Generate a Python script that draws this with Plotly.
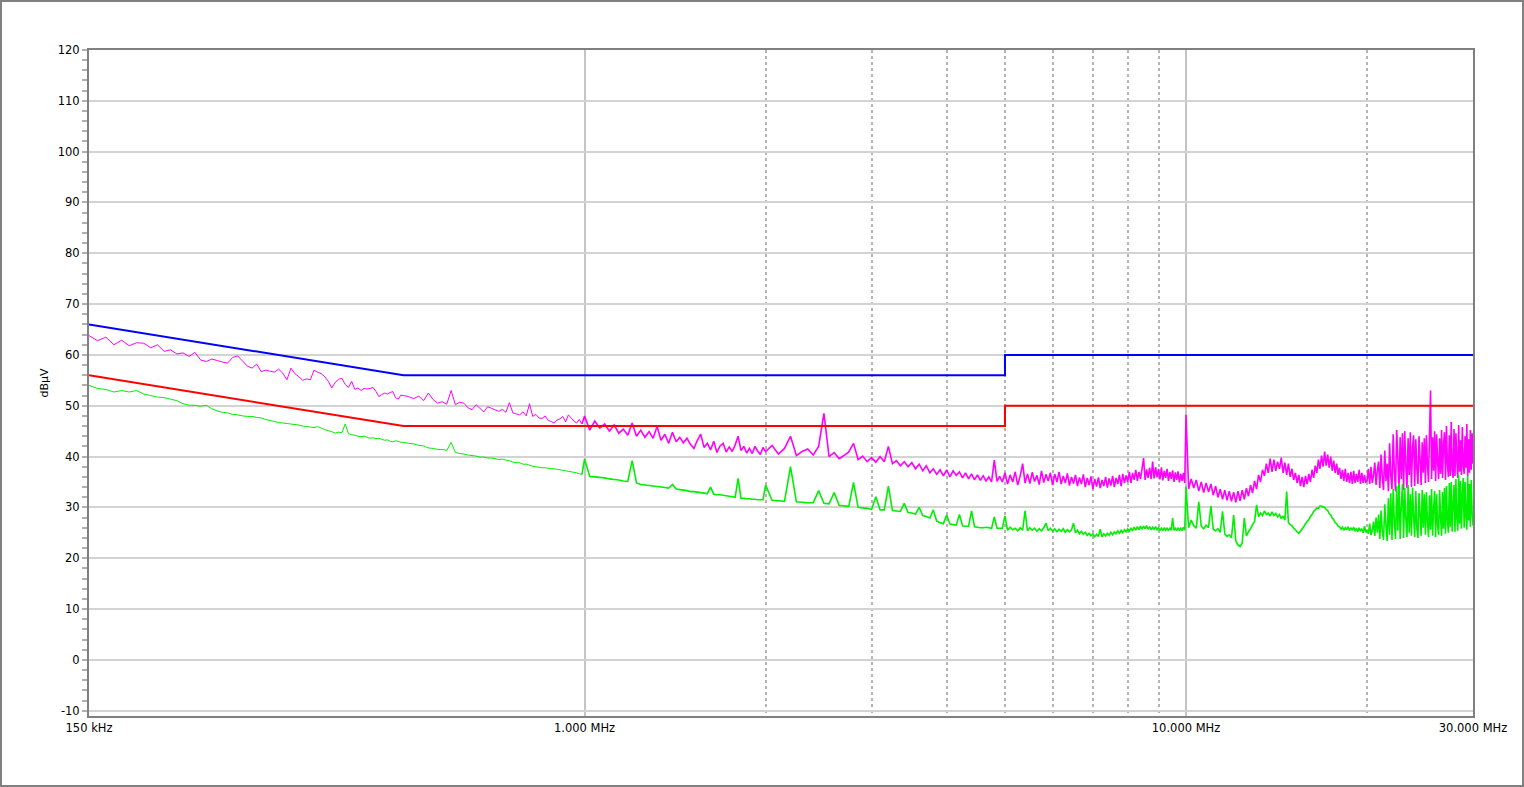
import plotly.graph_objects as go

# ---------------- data (frequency in MHz, level in dBuV) ----------------
freq_a = [0.150, 0.155, 0.160, 0.165, 0.170, 0.175, 0.180, 0.185, 0.190, 0.195,
          0.200, 0.205, 0.210, 0.215, 0.220, 0.225, 0.230, 0.235, 0.240, 0.245,
          0.250, 0.255, 0.260, 0.265, 0.270, 0.275, 0.280, 0.285, 0.290, 0.295,
          0.300, 0.305, 0.310, 0.315, 0.320, 0.325, 0.330, 0.335, 0.340, 0.345,
          0.350, 0.355, 0.360, 0.365, 0.370, 0.375, 0.380, 0.385, 0.390, 0.395,
          0.400, 0.405, 0.410, 0.415, 0.420, 0.425, 0.430, 0.435, 0.440, 0.445,
          0.450, 0.455, 0.460, 0.465, 0.470, 0.475, 0.480, 0.485, 0.490, 0.495]
peak_a = [63.8, 62.8, 63.5, 62.0, 62.9, 61.8, 62.4, 62.3, 61.4, 62.0,
          60.7, 61.0, 60.2, 60.4, 59.7, 60.5, 59.0, 58.7, 59.2, 58.9,
          58.6, 58.4, 59.5, 59.8, 58.8, 57.8, 57.4, 58.2, 56.7, 57.0,
          56.8, 56.6, 57.2, 56.4, 55.1, 57.4, 56.3, 55.7, 55.0, 55.3,
          55.1, 57.0, 56.6, 56.3, 55.7, 54.8, 53.5, 54.6, 55.2, 55.4,
          54.2, 53.6, 54.8, 53.2, 53.5, 53.0, 53.4, 53.3, 53.4, 53.6,
          52.8, 51.8, 52.2, 52.5, 52.3, 52.6, 52.8, 51.6, 51.3, 52.1]
avg_a = [54.0, 53.4, 53.2, 52.7, 53.0, 52.7, 53.0, 52.3, 52.0, 51.7,
         51.6, 51.3, 51.0, 50.4, 50.1, 50.1, 49.9, 50.1, 49.4, 49.0,
         48.7, 48.6, 48.3, 48.2, 48.0, 47.9, 47.9, 47.7, 47.6, 47.3,
         47.1, 46.9, 46.7, 46.6, 46.5, 46.4, 46.3, 46.2, 46.0, 45.9,
         45.8, 45.7, 45.9, 45.6, 45.3, 45.1, 44.9, 44.6, 44.8, 44.7,
         46.4, 44.5, 44.3, 44.2, 44.0, 43.9, 44.0, 43.8, 43.6, 43.7,
         43.5, 43.6, 43.4, 43.2, 43.3, 43.0, 42.9, 43.1, 43.0, 42.8]

freq_b = [0.50, 0.51, 0.52, 0.53, 0.54, 0.55, 0.56, 0.57, 0.58, 0.59,
          0.60, 0.61, 0.62, 0.63, 0.64, 0.65, 0.66, 0.67, 0.68, 0.69,
          0.70, 0.71, 0.72, 0.73, 0.74, 0.75, 0.76, 0.77, 0.78, 0.79,
          0.80, 0.81, 0.82, 0.83, 0.84, 0.85, 0.86, 0.87, 0.88, 0.89,
          0.90, 0.91, 0.92, 0.93, 0.94, 0.95, 0.96, 0.97, 0.98, 0.99]
peak_b = [52.0, 51.8, 51.4, 51.9, 51.0, 52.5, 51.2, 50.5, 50.8, 50.3,
          53.0, 50.2, 50.7, 50.5, 49.6, 49.2, 50.2, 49.5, 48.8, 49.8,
          49.5, 49.2, 48.9, 49.3, 48.7, 50.6, 48.6, 48.4, 48.2, 48.8,
          48.0, 50.4, 47.9, 48.3, 47.6, 47.5, 48.0, 47.1, 46.9, 46.6,
          47.2, 47.4, 47.9, 46.8, 48.2, 47.6, 47.0, 46.6, 47.3, 46.4]
avg_b = [42.8, 42.6, 42.5, 42.2, 42.1, 41.7, 41.6, 41.4, 41.4, 41.2,
         42.8, 40.8, 40.6, 40.5, 40.3, 40.2, 40.1, 39.9, 39.9, 39.7,
         39.7, 39.6, 39.4, 39.5, 39.3, 39.2, 38.9, 38.8, 38.8, 38.5,
         38.5, 38.3, 38.1, 38.0, 37.9, 37.8, 37.8, 37.7, 37.6, 37.6,
         37.5, 37.4, 37.3, 37.2, 37.1, 37.0, 36.9, 36.8, 36.6, 36.5]

freq_c = [1.00, 1.02, 1.04, 1.06, 1.08, 1.10, 1.12, 1.14, 1.16, 1.18,
          1.20, 1.22, 1.24, 1.26, 1.28, 1.30, 1.32, 1.34, 1.36, 1.38,
          1.40, 1.42, 1.44, 1.46, 1.48, 1.50, 1.52, 1.54, 1.56, 1.58,
          1.60, 1.62, 1.64, 1.66, 1.68, 1.70, 1.72, 1.74, 1.76, 1.78,
          1.80, 1.82, 1.84, 1.86, 1.88, 1.90, 1.92, 1.94, 1.96, 1.98]
peak_c = [48.0, 45.2, 47.0, 45.6, 46.4, 45.0, 46.2, 44.6, 45.4, 44.2,
          46.6, 44.0, 45.2, 43.8, 44.9, 43.6, 45.9, 43.2, 44.4, 42.6,
          44.8, 42.9, 43.8, 42.7, 43.6, 42.4, 41.6, 43.2, 44.4, 41.8,
          42.6, 41.3, 43.0, 40.8, 42.1, 42.6, 40.9, 41.9, 41.0, 42.3,
          44.0, 41.2, 42.0, 40.7, 41.6, 40.6, 42.0, 41.1, 40.4, 41.8]
avg_c = [39.5, 36.1, 36.0, 35.9, 35.8, 35.6, 35.5, 35.4, 35.2, 35.1,
         39.2, 34.8, 34.5, 34.4, 34.3, 34.2, 34.1, 34.0, 33.9, 33.8,
         34.5, 33.6, 33.5, 33.4, 33.3, 33.1, 33.1, 33.0, 32.9, 32.8,
         32.7, 34.0, 32.6, 32.5, 32.5, 32.4, 32.3, 32.2, 32.1, 32.0,
         35.7, 31.8, 31.8, 31.7, 31.7, 31.6, 31.6, 31.5, 31.5, 31.5]

freq_d = [2.00, 2.05, 2.10, 2.15, 2.20, 2.25, 2.30, 2.35, 2.40, 2.45,
          2.50, 2.55, 2.60, 2.65, 2.70, 2.75, 2.80, 2.85, 2.90, 2.95,
          3.00, 3.05, 3.10, 3.15, 3.20, 3.25, 3.30, 3.35, 3.40, 3.45,
          3.50, 3.55, 3.60, 3.65, 3.70, 3.75, 3.80, 3.85, 3.90, 3.95,
          4.00, 4.05, 4.10, 4.15, 4.20, 4.25, 4.30, 4.35, 4.40, 4.45,
          4.50, 4.55, 4.60, 4.65, 4.70, 4.75, 4.80, 4.85, 4.90, 4.95]
peak_d = [41.0, 42.2, 40.5, 41.6, 44.0, 40.2, 41.0, 41.5, 40.3, 42.0,
          48.5, 40.0, 40.8, 39.6, 40.2, 40.9, 42.6, 39.4, 40.1, 39.0,
          39.8, 38.9, 40.0, 39.0, 42.0, 38.6, 39.2, 38.2, 39.0, 38.0,
          38.8, 37.6, 38.5, 37.2, 38.2, 36.8, 37.6, 36.5, 37.4, 36.2,
          37.4, 36.0, 37.2, 36.3, 37.0, 35.8, 36.8, 35.6, 36.6, 35.4,
          36.4, 35.3, 36.2, 35.2, 36.0, 35.0, 39.3, 35.1, 36.1, 35.0]
avg_d = [34.4, 31.4, 31.3, 31.2, 38.0, 31.1, 31.0, 30.9, 30.9, 33.3,
         30.8, 30.7, 32.9, 30.4, 30.3, 30.2, 34.9, 30.0, 29.9, 29.8,
         29.6, 32.1, 29.5, 29.5, 34.2, 29.4, 29.3, 29.2, 30.8, 29.0,
         28.9, 28.7, 30.0, 28.4, 28.2, 27.9, 29.5, 27.3, 27.0, 26.8,
         28.5, 26.7, 26.6, 26.5, 28.6, 26.4, 26.3, 26.3, 29.3, 26.2,
         26.1, 26.0, 26.0, 26.1, 26.0, 25.9, 28.1, 25.9, 25.9, 25.9]

freq_e = [5.00, 5.05, 5.10, 5.15, 5.20, 5.25, 5.30, 5.35, 5.40, 5.45,
          5.50, 5.55, 5.60, 5.65, 5.70, 5.75, 5.80, 5.85, 5.90, 5.95,
          6.00, 6.05, 6.10, 6.15, 6.20, 6.25, 6.30, 6.35, 6.40, 6.45,
          6.50, 6.55, 6.60, 6.65, 6.70, 6.75, 6.80, 6.85, 6.90, 6.95,
          7.00, 7.05, 7.10, 7.15, 7.20, 7.25, 7.30, 7.35, 7.40, 7.45,
          7.50, 7.55, 7.60, 7.65, 7.70, 7.75, 7.80, 7.85, 7.90, 7.95,
          8.00, 8.05, 8.10, 8.15, 8.20, 8.25, 8.30, 8.35, 8.40, 8.45,
          8.50, 8.55, 8.60, 8.65, 8.70, 8.75, 8.80, 8.85, 8.90, 8.95,
          9.00, 9.05, 9.10, 9.15, 9.20, 9.25, 9.30, 9.35, 9.40, 9.45,
          9.50, 9.55, 9.60, 9.65, 9.70, 9.75, 9.80, 9.85, 9.90, 9.95]
peak_e = [36.8, 34.6, 36.4, 35.0, 37.0, 34.4, 36.2, 38.6, 34.8, 36.6,
          34.7, 36.9, 35.1, 36.3, 34.5, 37.2, 34.9, 36.5, 35.2, 36.8,
          34.4, 36.6, 35.0, 37.0, 34.6, 36.2, 34.8, 36.7, 34.3, 36.0,
          34.7, 36.4, 34.2, 35.9, 34.6, 36.5, 34.0, 35.8, 34.4, 36.1,
          33.6, 35.6, 34.1, 35.9, 33.8, 35.4, 34.2, 36.0, 33.9, 35.7,
          34.3, 36.2, 34.0, 35.8, 34.6, 36.4, 34.2, 36.6, 34.8, 36.3,
          35.0, 37.0, 34.8, 36.8, 35.4, 37.4, 35.2, 37.0, 35.6, 37.6,
          39.7, 35.4, 37.5, 35.8, 37.8, 35.6, 39.0, 35.7, 37.9, 35.9,
          37.6, 35.5, 37.9, 35.3, 37.2, 35.8, 37.6, 35.2, 37.0, 35.6,
          37.3, 35.0, 36.9, 35.4, 37.1, 34.9, 36.6, 35.2, 36.8, 34.8]
avg_e = [28.3, 25.5, 26.1, 25.6, 25.9, 25.4, 26.0, 25.5, 29.3, 25.4,
         26.0, 25.5, 25.9, 25.3, 25.8, 25.4, 26.0, 26.9, 25.4, 25.9,
         25.3, 25.8, 25.2, 25.7, 25.3, 25.8, 25.1, 25.6, 25.2, 25.6,
         26.9, 25.0, 25.5, 24.8, 25.3, 24.7, 25.1, 24.5, 24.9, 24.4,
         24.8, 24.2, 24.7, 24.3, 25.7, 24.2, 24.8, 24.4, 24.9, 24.5,
         25.1, 24.6, 25.2, 24.8, 25.4, 24.9, 25.5, 25.0, 25.6, 25.2,
         25.8, 25.3, 25.9, 25.4, 26.1, 25.5, 26.2, 25.6, 26.3, 25.7,
         26.3, 25.8, 26.4, 25.7, 26.2, 25.6, 26.1, 25.7, 26.2, 25.6,
         26.0, 25.5, 25.9, 25.4, 26.0, 25.5, 25.9, 25.4, 26.0, 25.5,
         27.9, 25.5, 25.9, 25.4, 26.0, 25.5, 25.9, 25.4, 26.1, 25.5]

freq_f1 = [10.0, 10.1, 10.2, 10.3, 10.4, 10.5, 10.6, 10.7, 10.8, 10.9,
           11.0, 11.1, 11.2, 11.3, 11.4, 11.5, 11.6, 11.7, 11.8, 11.9,
           12.0, 12.1, 12.2, 12.3, 12.4, 12.5, 12.6, 12.7, 12.8, 12.9,
           13.0, 13.1, 13.2, 13.3, 13.4, 13.5, 13.6, 13.7, 13.8, 13.9,
           14.0, 14.1, 14.2, 14.3, 14.4, 14.5, 14.6, 14.7, 14.8, 14.9,
           15.0, 15.1, 15.2, 15.3, 15.4, 15.5, 15.6, 15.7, 15.8, 15.9,
           16.0, 16.1, 16.2, 16.3, 16.4, 16.5, 16.6, 16.7, 16.8, 16.9,
           17.0, 17.1, 17.2, 17.3, 17.4, 17.5, 17.6, 17.7, 17.8, 17.9,
           18.0, 18.1, 18.2, 18.3, 18.4, 18.5, 18.6, 18.7, 18.8, 18.9,
           19.0, 19.1, 19.2, 19.3, 19.4, 19.5, 19.6, 19.7, 19.8, 19.9]
peak_f1 = [48.2, 33.6, 35.6, 33.8, 35.4, 33.2, 35.0, 32.9, 34.8, 33.0,
           34.6, 32.4, 34.2, 32.0, 33.6, 31.6, 33.4, 31.4, 33.2, 31.2,
           33.0, 31.0, 33.2, 31.3, 33.4, 31.6, 33.8, 32.2, 34.4, 32.8,
           35.2, 33.6, 36.4, 35.0, 37.4, 36.2, 38.6, 36.8, 39.6, 37.0,
           39.4, 37.2, 39.0, 37.6, 39.8, 36.8, 38.8, 36.4, 38.6, 36.0,
           37.6, 35.4, 36.8, 34.8, 36.4, 34.2, 36.0, 34.0, 36.2, 34.6,
           36.6, 35.0, 37.4, 35.8, 38.2, 36.8, 39.4, 37.6, 40.2, 38.0,
           41.0, 38.2, 40.4, 37.8, 40.0, 37.2, 39.2, 36.8, 38.6, 36.4,
           37.8, 35.6, 37.4, 35.2, 37.6, 35.0, 36.8, 34.8, 37.0, 34.6,
           37.2, 34.8, 36.6, 35.0, 37.4, 34.6, 36.8, 34.8, 36.4, 35.0]
avg_f1 = [34.1, 26.0, 27.5, 26.4, 25.9, 31.1, 26.3, 25.8, 26.5, 26.0,
          30.3, 25.7, 25.4, 25.8, 25.1, 29.2, 24.8, 24.3, 24.6, 24.0,
          28.5, 23.4, 22.6, 22.3, 23.0, 27.9, 24.4, 25.2, 25.8, 26.6,
          27.2, 30.5, 28.2, 28.9, 28.4, 29.3, 28.6, 28.9, 28.3, 29.1,
          28.4, 28.8, 28.1, 28.6, 27.8, 28.3, 27.5, 33.1, 27.0, 26.6,
          26.4, 25.9, 25.6, 25.2, 24.9, 25.3, 25.8, 26.2, 26.8, 27.2,
          27.6, 28.2, 28.6, 29.2, 29.5, 29.9, 29.8, 30.3, 30.2, 30.1,
          30.0, 29.6, 29.4, 28.8, 28.5, 27.9, 27.6, 27.0, 26.8, 26.3,
          26.2, 25.7, 26.1, 25.5, 26.0, 25.6, 26.2, 25.4, 26.0, 25.5,
          26.1, 25.3, 25.9, 25.2, 26.0, 25.3, 25.8, 25.0, 26.3, 25.1]

freq_f2 = [20.0, 20.1, 20.2, 20.3, 20.4, 20.5, 20.6, 20.7, 20.8, 20.9,
           21.0, 21.1, 21.2, 21.3, 21.4, 21.5, 21.6, 21.7, 21.8, 21.9,
           22.0, 22.1, 22.2, 22.3, 22.4, 22.5, 22.6, 22.7, 22.8, 22.9,
           23.0, 23.1, 23.2, 23.3, 23.4, 23.5, 23.6, 23.7, 23.8, 23.9,
           24.0, 24.1, 24.2, 24.3, 24.4, 24.5, 24.6, 24.7, 24.8, 24.9,
           25.0, 25.1, 25.2, 25.3, 25.4, 25.5, 25.6, 25.7, 25.8, 25.9,
           26.0, 26.1, 26.2, 26.3, 26.4, 26.5, 26.6, 26.7, 26.8, 26.9,
           27.0, 27.1, 27.2, 27.3, 27.4, 27.5, 27.6, 27.7, 27.8, 27.9,
           28.0, 28.1, 28.2, 28.3, 28.4, 28.5, 28.6, 28.7, 28.8, 28.9,
           29.0, 29.1, 29.2, 29.3, 29.4, 29.5, 29.6, 29.7, 29.8, 29.9,
           30.0]
peak_f2 = [35.2, 37.6, 34.6, 38.0, 34.8, 36.4, 38.8, 34.4, 37.2, 39.0,
           33.8, 40.4, 36.0, 33.4, 41.2, 35.2, 38.6, 33.2, 42.6, 36.4,
           33.6, 44.4, 37.0, 33.2, 45.2, 39.6, 33.8, 43.8, 35.6, 44.6,
           33.4, 45.0, 38.2, 33.8, 43.6, 36.4, 44.8, 34.0, 41.8, 44.2,
           34.2, 43.4, 37.6, 34.6, 44.0, 39.2, 34.4, 42.8, 36.8, 43.6,
           34.8, 44.2, 38.4, 35.0, 44.6, 53.0, 35.6, 43.8, 37.2, 45.0,
           35.2, 44.4, 39.0, 35.6, 43.6, 36.6, 45.2, 35.8, 42.4, 44.8,
           35.4, 46.0, 38.6, 36.0, 44.2, 36.2, 46.8, 37.4, 35.8, 45.4,
           36.2, 44.6, 39.4, 35.8, 46.2, 37.0, 43.2, 36.4, 45.8, 38.2,
           36.6, 44.0, 37.8, 46.4, 36.2, 43.4, 36.8, 45.2, 37.4, 44.6,
           38.6]
avg_f2 = [25.6, 24.8, 26.8, 24.6, 25.4, 27.2, 24.4, 28.0, 25.0, 28.6,
          23.8, 29.4, 25.2, 23.6, 30.6, 26.4, 23.4, 31.8, 24.6, 32.8,
          23.6, 33.6, 27.0, 23.8, 34.2, 25.4, 34.8, 23.8, 30.4, 34.6,
          24.0, 33.8, 27.6, 24.2, 34.4, 25.0, 32.6, 24.4, 33.9, 28.2,
          24.2, 33.2, 25.8, 24.0, 32.8, 28.4, 24.4, 33.4, 26.0, 32.6,
          24.6, 33.0, 27.2, 24.2, 32.4, 25.6, 33.6, 24.4, 29.6, 33.2,
          24.2, 32.6, 26.4, 24.6, 33.4, 28.0, 24.4, 33.0, 25.8, 33.8,
          24.8, 34.2, 27.4, 25.0, 34.8, 26.2, 35.0, 25.2, 30.6, 34.4,
          25.2, 35.6, 27.8, 25.4, 36.4, 26.8, 35.2, 25.8, 32.4, 35.8,
          26.0, 35.0, 28.2, 25.6, 36.2, 27.4, 34.6, 26.2, 35.4, 29.0,
          26.4]

# limit lines (quasi-peak and average)
qp_limit_freq = [0.15, 0.5, 5.0, 5.0, 30.0]
qp_limit_dbuv = [66, 56, 56, 60, 60]
av_limit_freq = [0.15, 0.5, 5.0, 5.0, 30.0]
av_limit_dbuv = [56, 46, 46, 50, 50]

# axis ticks
x_tick_vals = [0.15, 1, 10, 30]
x_tick_text = ["150 kHz", "1.000 MHz", "10.000 MHz", "30.000 MHz"]
x_minor_grid = [2, 3, 4, 5, 6, 7, 8, 9, 20]
y_tick_vals = [-10, 0, 10, 20, 30, 40, 50, 60, 70, 80, 90, 100, 110, 120]
y_tick_text = [str(v) for v in y_tick_vals]

# low band (< 1 MHz) is a sparse, thin trace; above 1 MHz the sweep is dense
freq_low = freq_a + freq_b
peak_low = peak_a + peak_b
avg_low = avg_a + avg_b
freq_high = freq_low[-1:] + freq_c + freq_d + freq_e + freq_f1 + freq_f2
peak_high = peak_low[-1:] + peak_c + peak_d + peak_e + peak_f1 + peak_f2
avg_high = avg_low[-1:] + avg_c + avg_d + avg_e + avg_f1 + avg_f2
assert len(freq_low) == len(peak_low) == len(avg_low)
assert len(freq_high) == len(peak_high) == len(avg_high), (len(freq_high), len(peak_high), len(avg_high))

FONT = "DejaVu Sans"
PEAK_COLOR = "#FF00FF"
AVG_COLOR = "#00F000"

fig = go.Figure()
fig.add_trace(go.Scatter(x=freq_low, y=peak_low, mode="lines",
                         line=dict(color=PEAK_COLOR, width=1, simplify=False),
                         hoverinfo="skip", name="Peak"))
fig.add_trace(go.Scatter(x=freq_high, y=peak_high, mode="lines",
                         line=dict(color=PEAK_COLOR, width=1.6, simplify=False),
                         hoverinfo="skip", name="Peak"))
fig.add_trace(go.Scatter(x=freq_low, y=avg_low, mode="lines",
                         line=dict(color=AVG_COLOR, width=1, simplify=False),
                         hoverinfo="skip", name="Average"))
fig.add_trace(go.Scatter(x=freq_high, y=avg_high, mode="lines",
                         line=dict(color=AVG_COLOR, width=1.6, simplify=False),
                         hoverinfo="skip", name="Average"))
fig.add_trace(go.Scatter(x=qp_limit_freq, y=qp_limit_dbuv, mode="lines",
                         line=dict(color="#0000FF", width=2),
                         hoverinfo="skip", name="QP limit"))
fig.add_trace(go.Scatter(x=av_limit_freq, y=av_limit_dbuv, mode="lines",
                         line=dict(color="#FF0000", width=2),
                         hoverinfo="skip", name="AV limit"))

fig.update_layout(
    width=1524, height=787,
    margin=dict(l=89, r=51, t=50, b=71),
    paper_bgcolor="white", plot_bgcolor="white",
    showlegend=False,
    font=dict(family=FONT, size=11.5, color="#000000"),
    xaxis=dict(
        type="log",
        range=[-0.823909, 1.477121],
        tickmode="array", tickvals=x_tick_vals, ticktext=x_tick_text,
        ticks="", showgrid=True, gridcolor="#c4c4c4", gridwidth=2,
        showline=True, mirror=True, linecolor="#808080", linewidth=2,
        zeroline=False,
        tickfont=dict(family=FONT, size=11.5, color="#000000"),
        minor=dict(tickmode="array", tickvals=x_minor_grid, showgrid=True,
                   gridcolor="#b4b4b4", griddash="dot", gridwidth=2, ticks=""),
    ),
    yaxis=dict(
        range=[-11.05, 120],
        tickmode="array", tickvals=y_tick_vals, ticktext=y_tick_text,
        ticks="outside", ticklen=5, tickwidth=2, tickcolor="#b0b0b0",
        showgrid=True, gridcolor="#d3d3d3", gridwidth=2,
        showline=True, mirror=True, linecolor="#808080", linewidth=2,
        zeroline=False,
        tickfont=dict(family=FONT, size=11.5, color="#000000"),
        title=dict(text="dBµV", font=dict(family=FONT, size=11, color="#000000"), standoff=7),
        minor=dict(dtick=2, tick0=0, ticks="outside", ticklen=5, tickwidth=2,
                   tickcolor="#b0b0b0", showgrid=False),
    ),
    shapes=[dict(type="rect", xref="paper", yref="paper",
                 x0=-0.06358, x1=1.03613, y0=-0.10511, y1=1.07357,
                 line=dict(color="#808080", width=2), fillcolor="rgba(0,0,0,0)",
                 layer="below")],
)

fig.write_html("out.html", config={"displayModeBar": False},
               post_script="document.body.style.margin='0';document.body.style.overflow='hidden';")
